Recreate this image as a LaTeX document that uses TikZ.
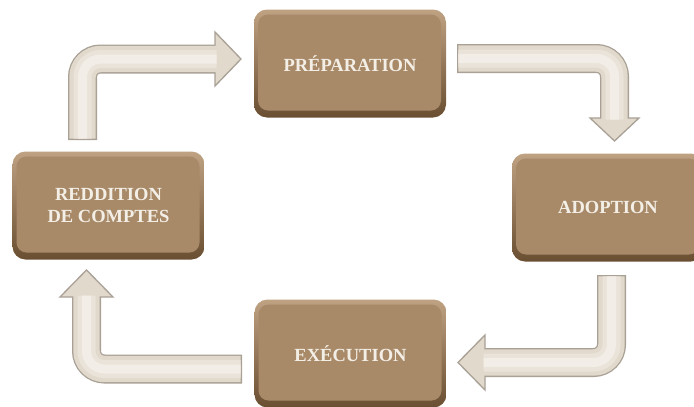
\documentclass[tikz,border=0pt]{standalone}
\usepackage{fontspec}
\setmainfont{Liberation Serif}
\definecolor{boxtop}{HTML}{BFA282}
\definecolor{boxbot}{HTML}{6A4E31}
\definecolor{boxmain}{HTML}{A88A69}
\definecolor{boxtext}{HTML}{F4EFE6}
\definecolor{arrowedge}{HTML}{A9A096}
\definecolor{arrowA}{HTML}{E2D9CD}
\definecolor{arrowB}{HTML}{EAE3D9}
\definecolor{arrowC}{HTML}{F2EDE6}
\begin{document}
\begin{tikzpicture}[x=1pt,y=-1pt,
  box/.style={rectangle, minimum width=192pt, minimum height=108pt, rounded corners=13pt,
    top color=boxtop, bottom color=boxbot, inner sep=0pt,
    path picture={\fill[boxmain, rounded corners=10pt]
      ([xshift=4pt,yshift=7pt]path picture bounding box.south west) rectangle
      ([xshift=-5pt,yshift=-5pt]path picture bounding box.north east);},
    font=\bfseries\fontsize{18.5}{22}\selectfont, text=boxtext, align=center},
  ao/.style={line width=29pt, draw=arrowedge, rounded corners=18pt},
  aone/.style={line width=26.4pt, draw=arrowA, rounded corners=18pt},
  atwo/.style={line width=18pt, draw=arrowB, rounded corners=18pt},
  athree/.style={line width=9pt, draw=arrowC, rounded corners=18pt},
  head/.style={fill=arrowA, draw=arrowedge, line width=1.3pt, line join=miter}]
\clip (0,0) rectangle (694,407);
\fill[white] (0,0) rectangle (694,407);

% boxes
\node[box] (prep) at (350,63.5) {PRÉPARATION};
\node[box] (adop) at (608,207.5) {ADOPTION};
\node[box] (exec) at (350.5,353.5) {EXÉCUTION};
\node[box] (redd) at (108.5,205.5) {REDDITION\\DE COMPTES};

% arrow: reddition -> preparation
\coordinate (as) at (82.5,140);
\coordinate (ac) at (82.5,59);
\coordinate (ae) at (215,59);
\draw[ao] (as) -- (ac) -- (ae);
\filldraw[head] (215,32) -- (241,59) -- (215,86) -- cycle;
\draw[aone] (82.5,138.6) -- (ac) -- (216.5,59);
\draw[atwo] (82.5,138.6) -- (ac) -- (216.5,59);
\draw[athree] (82.5,138.6) -- (ac) -- (216.5,59);

% arrow: preparation -> adoption
\coordinate (bs) at (457,58.5);
\coordinate (bc) at (614.5,58.5);
\coordinate (be) at (614.5,118);
\draw[ao] (bs) -- (bc) -- (be);
\filldraw[head] (590,118) -- (614.5,141) -- (639,118) -- cycle;
\draw[aone] (458.4,58.5) -- (bc) -- (614.5,119.5);
\draw[atwo] (458.4,58.5) -- (bc) -- (614.5,119.5);
\draw[athree] (458.4,58.5) -- (bc) -- (614.5,119.5);

% arrow: adoption -> execution
\coordinate (cs) at (611.5,275);
\coordinate (cc) at (611.5,362.5);
\coordinate (ce) at (485,362.5);
\draw[ao] (cs) -- (cc) -- (ce);
\filldraw[head] (485,335) -- (458,362.5) -- (485,390) -- cycle;
\draw[aone] (611.5,276.4) -- (cc) -- (483.5,362.5);
\draw[atwo] (611.5,276.4) -- (cc) -- (483.5,362.5);
\draw[athree] (611.5,276.4) -- (cc) -- (483.5,362.5);

% arrow: execution -> reddition
\coordinate (ds) at (242,369);
\coordinate (dc) at (86.5,369);
\coordinate (de) at (86.5,297);
\draw[ao] (ds) -- (dc) -- (de);
\filldraw[head] (60,297) -- (86.5,270) -- (113,297) -- cycle;
\draw[aone] (240.6,369) -- (dc) -- (86.5,295.5);
\draw[atwo] (240.6,369) -- (dc) -- (86.5,295.5);
\draw[athree] (240.6,369) -- (dc) -- (86.5,295.5);
\end{tikzpicture}
\end{document}
